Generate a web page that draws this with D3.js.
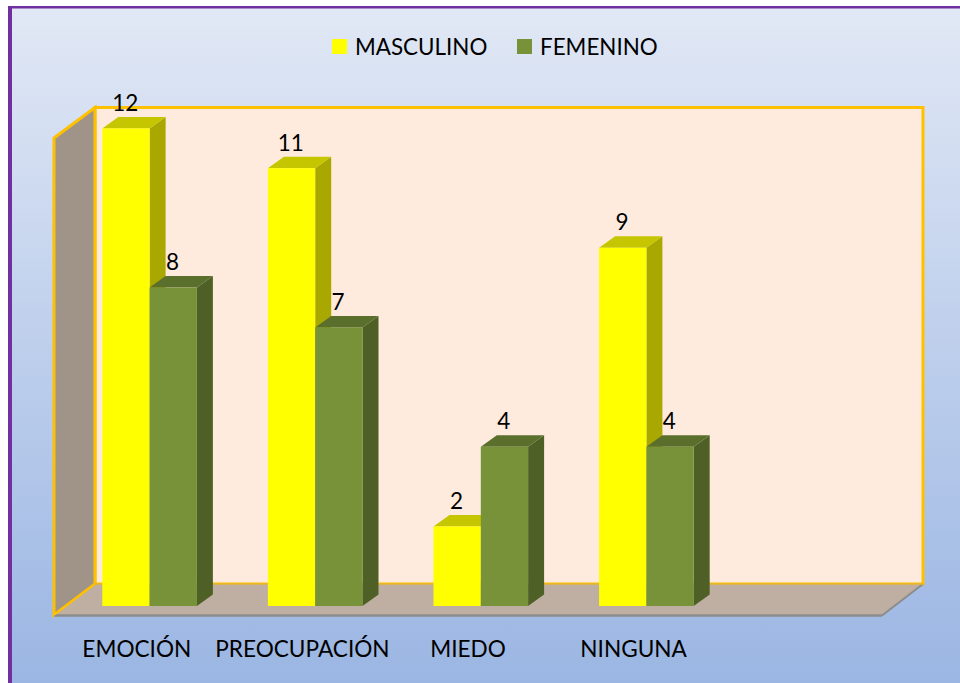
<!DOCTYPE html>
<html>
<head>
<meta charset="utf-8">
<script src="https://cdn.jsdelivr.net/npm/d3@7/dist/d3.min.js"></script>
<style>
html,body{margin:0;padding:0;background:#fff;}
svg{display:block;}
text{font-family:Lato,"Open Sans",sans-serif;fill:#000;}
</style>
</head>
<body>
<svg id="c" width="960" height="683"></svg>
<script>
const categories = ["EMOCIÓN","PREOCUPACIÓN","MIEDO","NINGUNA"];
const slots = [...categories, ""];
const seriesNames = ["MASCULINO","FEMENINO"];
const masculino = [12,11,2,9];
const femenino = [8,7,4,4];
const frontColors = ["#FFFF00","#78923A"];
const sideColors = ["#A8A800","#4F6027"];
const topColors = ["#C6C600","#5B6F2D"];

const W = 960, H = 683;
const depthX = 41, depthY = 31;
const barDX = 16, barDY = 11.5;
const floorLeft = 54, floorRight = 882, floorY = 615;
const barBase = 606;

const svg = d3.select("#c");
const defs = svg.append("defs");
const g = defs.append("linearGradient").attr("id","bg").attr("x1",0).attr("y1",0).attr("x2",0).attr("y2",1);
g.append("stop").attr("offset","0%").attr("stop-color","#E1E8F5");
g.append("stop").attr("offset","100%").attr("stop-color","#9BB6E3");

svg.append("rect").attr("x",8).attr("y",6).attr("width",W-8).attr("height",H-6).attr("fill","url(#bg)");
svg.append("rect").attr("x",8).attr("y",6).attr("width",4).attr("height",H-6).attr("fill","#7030A0");
svg.append("rect").attr("x",8).attr("y",6).attr("width",W-8).attr("height",2.5).attr("fill","#7030A0");

const x0 = d3.scaleBand().domain(slots).range([floorLeft,floorRight]);
const barGroup = d3.scaleBand().domain(seriesNames).range([0,94.6]);
const y = d3.scaleLinear().domain([0,12]).range([barBase,128.4]);
const barOffset = (x0.bandwidth()-94.6)/2 + 12.8;

const poly = (pts,fill,stroke,sw) => svg.append("polygon")
  .attr("points",pts.map(p=>p.join(",")).join(" "))
  .attr("fill",fill).attr("stroke",stroke||"none").attr("stroke-width",sw||0).attr("stroke-linejoin","miter");

const wallTop = 107.5, wallBottom = floorY-depthY;
// back wall
poly([[floorLeft+depthX,wallTop],[floorRight+depthX,wallTop],[floorRight+depthX,wallBottom],[floorLeft+depthX,wallBottom]],"#FEEBDD","#FFC000",3);
// side wall
poly([[floorLeft,wallTop+depthY-.5],[floorLeft+depthX,wallTop],[floorLeft+depthX,wallBottom],[floorLeft,floorY]],"#A09488","#FFC000",3);
// floor
poly([[floorLeft,floorY],[floorLeft+depthX,wallBottom],[floorRight+depthX,wallBottom],[floorRight,floorY]],"#BFAFA2");
svg.append("line").attr("x1",floorLeft).attr("x2",floorRight).attr("y1",floorY+.5).attr("y2",floorY+.5).attr("stroke","#8C8C8C").attr("stroke-width",2.5);
svg.append("line").attr("x1",floorRight).attr("x2",floorRight+depthX).attr("y1",floorY+.5).attr("y2",wallBottom).attr("stroke","#8C8C8C").attr("stroke-width",2);
svg.append("line").attr("x1",floorLeft).attr("x2",floorLeft+depthX).attr("y1",floorY).attr("y2",wallBottom).attr("stroke","#FFC000").attr("stroke-width",2);
svg.append("line").attr("x1",floorLeft+depthX).attr("x2",floorRight+depthX).attr("y1",wallBottom).attr("y2",wallBottom).attr("stroke","#E5B62E").attr("stroke-width",1.5);

const rows = [masculino,femenino];
categories.forEach((cat,i)=>{
  seriesNames.forEach((s,j)=>{
    const v = rows[j][i];
    const xl = x0(cat)+barOffset+barGroup(s);
    const xr = xl+barGroup.bandwidth();
    const yt = y(v);
    poly([[xr,yt],[xr+barDX,yt-barDY],[xr+barDX,barBase-barDY],[xr,barBase]],sideColors[j]);
    poly([[xl,yt],[xl+barDX,yt-barDY],[xr+barDX,yt-barDY],[xr,yt]],topColors[j]);
    svg.append("rect").attr("x",xl).attr("y",yt).attr("width",barGroup.bandwidth()).attr("height",barBase-yt).attr("fill",frontColors[j]);
  });
});
categories.forEach((cat,i)=>{
  seriesNames.forEach((s,j)=>{
    const v = rows[j][i];
    const xc = x0(cat)+barOffset+barGroup(s)+barGroup.bandwidth()/2-.7;
    svg.append("text").attr("x",xc).attr("y",y(v)-17.5).attr("text-anchor","middle").attr("font-size",22.5).text(v);
  });
});
categories.forEach(cat=>{
  svg.append("text").attr("x",x0(cat)+x0.bandwidth()/2).attr("y",656.5).attr("text-anchor","middle").attr("font-size",22.6).text(cat);
});
const legendX = [332,517], legendText = [355,540];
seriesNames.forEach((s,j)=>{
  svg.append("rect").attr("x",legendX[j]).attr("y",39).attr("width",15).attr("height",15).attr("fill",frontColors[j]);
  svg.append("text").attr("x",legendText[j]).attr("y",55).attr("font-size",22.4).text(s);
});
</script>
</body>
</html>
